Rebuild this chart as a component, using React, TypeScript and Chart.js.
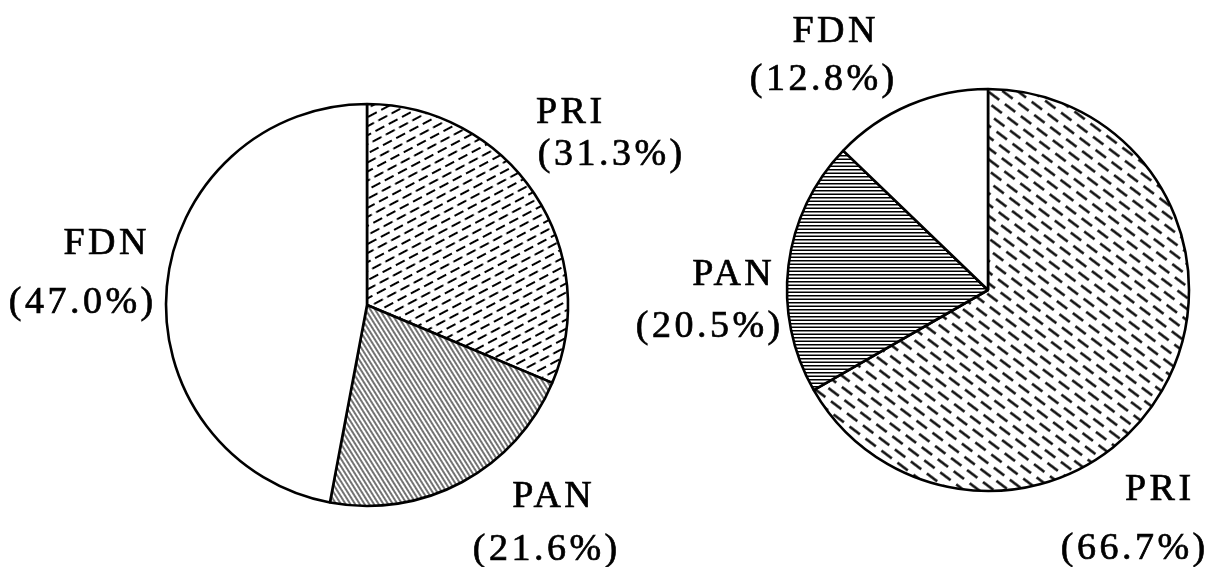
import React, { useEffect, useRef } from "react";
import { Chart, registerables } from "chart.js";

Chart.register(...registerables);

// ---------- data ----------
const parties = ["PRI", "PAN", "FDN"];
const leftShares = [31.3, 21.6, 47.0];
const rightShares = [66.7, 20.5, 12.8];

// ---------- styles / layout (not data) ----------
type Kind = "dashUp" | "diagLines" | "dashDown" | "hLines" | "blank";
const leftKinds: Kind[] = ["dashUp", "diagLines", "blank"];
const rightKinds: Kind[] = ["dashDown", "hLines", "blank"];

// label offsets relative to pie centre: [dxName, dyName, dxValue, dyValue]
const leftLabelOffsets = [
  [202, -182, 243, -140],
  [185, 202, 178, 255],
  [-262, -51, -286, 8],
];
const rightLabelOffsets = [
  [170, 210, 145, 269],
  [-256, -5, -280, 47],
  [-154, -248, -166, -200],
];

const FONT = '38px "Liberation Serif", "Times New Roman", serif';
const SPACING = 3.5;

function makePattern(kind: Kind): CanvasPattern | string {
  if (kind === "blank") return "#ffffff";
  const tile = document.createElement("canvas");
  let w = 16, h = 16, angle = 0;
  if (kind === "dashUp") { w = 15; h = 16; angle = -28; }
  if (kind === "diagLines") { w = 4; h = 4; angle = 58; }
  if (kind === "dashDown") { w = 20; h = 18; angle = 37; }
  if (kind === "hLines") { w = 4; h = 7; angle = 0; }
  tile.width = w;
  tile.height = h;
  const c = tile.getContext("2d")!;
  c.fillStyle = "#ffffff";
  c.fillRect(0, 0, w, h);
  c.strokeStyle = "#000000";
  c.lineCap = "butt";
  const seg = (x1: number, y: number, x2: number) => {
    c.beginPath();
    c.moveTo(x1, y);
    c.lineTo(x2, y);
    c.stroke();
  };
  if (kind === "dashUp") {
    c.lineWidth = 2;
    seg(0, 4, 10);
    seg(7.5, 12, 15);
    seg(0, 12, 2.5);
  } else if (kind === "diagLines") {
    c.lineWidth = 1.1;
    seg(0, 2, 4);
  } else if (kind === "dashDown") {
    c.lineWidth = 2.4;
    seg(0, 4.5, 13);
    seg(10, 13.5, 20);
    seg(0, 13.5, 3);
  } else if (kind === "hLines") {
    c.lineWidth = 1.5;
    seg(0, 1.75, 4);
    seg(0, 5.25, 4);
  }
  const ctx = document.createElement("canvas").getContext("2d")!;
  const p = ctx.createPattern(tile, "repeat")!;
  if (angle !== 0 && typeof DOMMatrix !== "undefined") {
    p.setTransform(new DOMMatrix().rotateSelf(angle));
  }
  return p;
}

const labelPlugin = {
  id: "partyLabels",
  afterDatasetsDraw(chart: any, _args: any, opts: any) {
    const meta = chart.getDatasetMeta(0);
    const ctx: CanvasRenderingContext2D = chart.ctx;
    const values: number[] = chart.data.datasets[0].data;
    const names: string[] = chart.data.labels;
    const offsets: number[][] = opts.offsets;
    ctx.save();
    ctx.font = FONT;
    ctx.fillStyle = "#000000";
    ctx.strokeStyle = "#000000";
    ctx.lineWidth = 0.7;
    ctx.textAlign = "left";
    ctx.textBaseline = "alphabetic";
    try {
      (ctx as any).letterSpacing = SPACING + "px";
    } catch (e) {}
    meta.data.forEach((arc: any, i: number) => {
      const o = offsets[i];
      const lines = [names[i], "(" + values[i].toFixed(1) + "%)"];
      lines.forEach((t, k) => {
        const wdt = ctx.measureText(t).width - SPACING;
        const cx = arc.x + o[k * 2];
        const by = arc.y + o[k * 2 + 1];
        ctx.fillText(t, cx - wdt / 2, by);
        ctx.strokeText(t, cx - wdt / 2, by);
      });
    });
    ctx.restore();
  },
};

function PieCanvas(props: {
  values: number[];
  kinds: Kind[];
  offsets: number[][];
  left: number;
  width: number;
  padLeft: number;
  padTop: number;
}) {
  const ref = useRef<HTMLCanvasElement>(null);
  useEffect(() => {
    if (!ref.current) return;
    const chart = new Chart(ref.current, {
      type: "pie",
      data: {
        labels: parties,
        datasets: [
          {
            data: props.values,
            backgroundColor: props.kinds.map(makePattern) as any,
            borderColor: "#000000",
            borderWidth: 2.6,
            borderAlign: "center",
            hoverOffset: 0,
          },
        ],
      },
      options: {
        responsive: false,
        animation: false,
        events: [],
        radius: 201,
        layout: {
          padding: { left: props.padLeft, top: props.padTop, right: 0, bottom: 0 },
        },
        plugins: {
          legend: { display: false },
          tooltip: { enabled: false },
          title: { display: false },
          partyLabels: { offsets: props.offsets },
        } as any,
      } as any,
      plugins: [labelPlugin],
    });
    return () => chart.destroy();
  }, []);
  return (
    <canvas
      ref={ref}
      width={props.width}
      height={567}
      style={{ position: "absolute", left: props.left, top: 0, width: props.width, height: 567 }}
    />
  );
}

export default function App() {
  return (
    <div
      style={{
        position: "fixed",
        left: 0,
        top: 0,
        width: 1211,
        height: 567,
        background: "#ffffff",
        overflow: "hidden",
      }}
    >
      <PieCanvas
        values={leftShares}
        kinds={leftKinds}
        offsets={leftLabelOffsets}
        left={0}
        width={720}
        padLeft={14}
        padTop={43}
      />
      <PieCanvas
        values={rightShares}
        kinds={rightKinds}
        offsets={rightLabelOffsets}
        left={620}
        width={591}
        padLeft={145}
        padTop={13}
      />
    </div>
  );
}
